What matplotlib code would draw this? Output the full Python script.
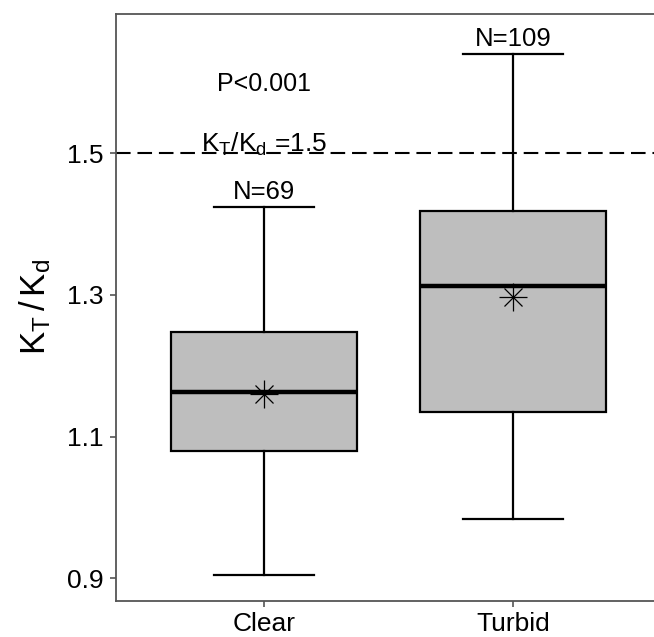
import matplotlib
matplotlib.use('Agg')
import matplotlib.pyplot as plt

plt.rcParams['font.family'] = ['Liberation Sans', 'DejaVu Sans']
plt.rcParams['mathtext.fontset'] = 'custom'
plt.rcParams['mathtext.rm'] = 'Liberation Sans'
plt.rcParams['mathtext.it'] = 'Liberation Sans'

# Werte
groups = ['Clear', 'Turbid']
n_labels = ['N=69', 'N=109']
whisk_lo = [0.905, 0.984]
q1 = [1.079, 1.134]
median = [1.163, 1.312]
q3 = [1.247, 1.419]
whisk_hi = [1.424, 1.641]
means = [1.160, 1.297]
threshold = 1.5
yticks = [0.9, 1.1, 1.3, 1.5]

stats = []
for i, g in enumerate(groups):
    stats.append({'label': g, 'whislo': whisk_lo[i], 'q1': q1[i], 'med': median[i],
                  'q3': q3[i], 'whishi': whisk_hi[i], 'fliers': []})

fig = plt.figure(figsize=(6.54, 6.37), dpi=100)
ax = fig.add_axes([0.1774, 0.057, 0.8333, 0.921])

ax.bxp(stats, positions=[1, 2], widths=0.75, capwidths=0.4, patch_artist=True,
       showfliers=False,
       boxprops=dict(facecolor='#bebebe', edgecolor='black', linewidth=1.6),
       medianprops=dict(color='black', linewidth=3.2),
       whiskerprops=dict(color='black', linewidth=1.6),
       capprops=dict(color='black', linewidth=1.6))

# Mittelwerte als Sternchen (+ und x übereinander)
ax.plot([1, 2], means, linestyle='none', marker='+', ms=20, mew=0.9, color='black', zorder=5)
ax.plot([1, 2], means, linestyle='none', marker='x', ms=13, mew=0.9, color='black', zorder=5)

ax.axhline(threshold, color='black', linewidth=1.5, dashes=(7, 3.3), zorder=1)

for i, lab in enumerate(n_labels):
    ax.annotate(lab, (i + 1, whisk_hi[i]), xytext=(0, 2), textcoords='offset points',
                ha='center', va='bottom', fontsize=18.5)

ax.text(1, 1.598, 'P<0.001', ha='center', va='center', fontsize=18)
ax.text(1, 1.503, r'$\mathregular{K_T/K_d}$ =1.5', ha='center', va='baseline', fontsize=19)

ax.set_xlim(0.406, 2.594)
ax.set_ylim(0.868, 1.697)
ax.set_xticks([1, 2])
ax.set_xticklabels(groups)
ax.set_yticks(yticks)
ax.set_yticklabels([f'{v:.1f}' for v in yticks])
ax.set_ylabel(r'$\mathregular{K_T\,/\,K_d}$', fontsize=25, labelpad=10)

for side in ['left', 'bottom', 'top']:
    ax.spines[side].set_color('#555555')
    ax.spines[side].set_linewidth(1.3)
ax.spines['right'].set_visible(False)
ax.tick_params(axis='both', colors='#555555', length=4, width=1.2, labelsize=19,
               labelcolor='black', pad=5)
ax.tick_params(axis='x', pad=4)

plt.savefig('out.png', dpi=100)
